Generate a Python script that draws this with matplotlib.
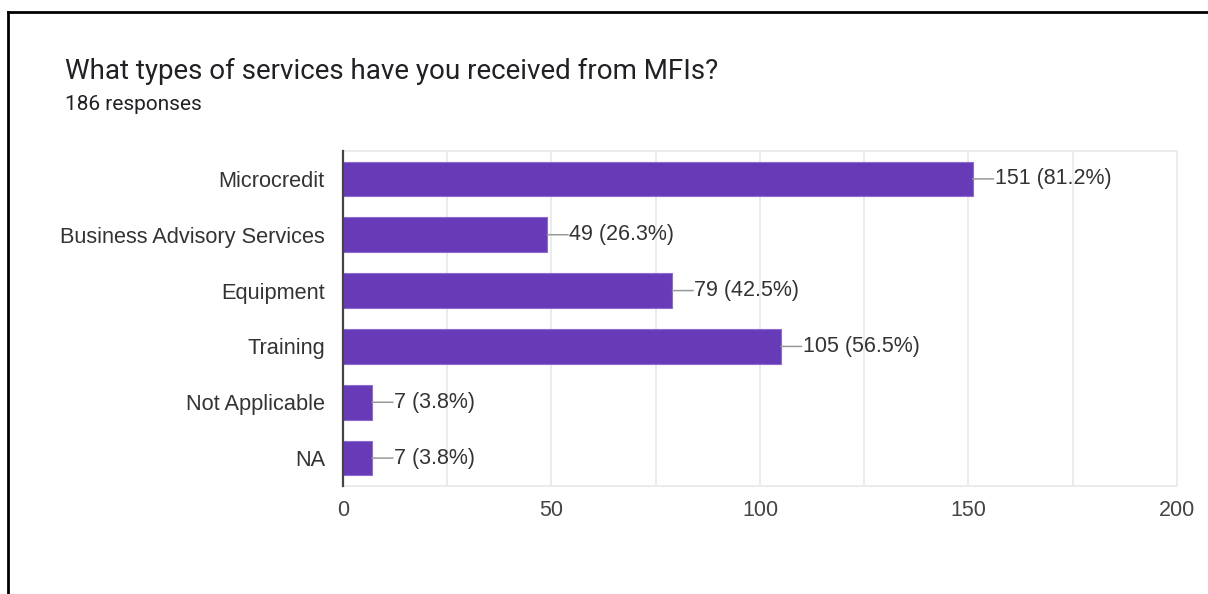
import matplotlib
matplotlib.use("Agg")
import matplotlib.pyplot as plt
from matplotlib.lines import Line2D

# survey answers, top to bottom
services = ["Microcredit", "Business Advisory Services", "Equipment",
            "Training", "Not Applicable", "NA"]
counts = [151, 49, 79, 105, 7, 7]
percents = [81.2, 26.3, 42.5, 56.5, 3.8, 3.8]
total_responses = 186

title = "What types of services have you received from MFIs?"
x_ticks = [0, 50, 100, 150, 200]

purple = "#673ab7"
text_grey = "#333333"
grid_grey = "#ebebeb"

fig = plt.figure(figsize=(12.08, 5.94), dpi=100)
ax = fig.add_axes([0.2839, 0.1818, 0.6904, 0.5640])

ypos = list(range(len(services)))
ax.barh(ypos, counts, height=0.62, color=purple, edgecolor="#8e6bd0",
        linewidth=0.8, zorder=3)

# value labels with a short leader line
for y, c, p in zip(ypos, counts, percents):
    ax.annotate("", xy=(c, y), xytext=(c + 5, y),
                arrowprops=dict(arrowstyle="-", color="#999999", lw=1.1,
                                shrinkA=0, shrinkB=0), zorder=4)
    ax.text(c + 5.3, y, f"{c} ({p}%)", va="center", ha="left",
            fontsize=15.5, color=text_grey, family="Liberation Sans")

ax.set_xlim(0, 200)
ax.set_ylim(len(services) - 0.5, -0.5)
ax.set_yticks(ypos)
ax.set_yticklabels(services, fontsize=15.7, color=text_grey,
                   family="Liberation Sans")
ax.set_xticks(x_ticks)
ax.set_xticklabels([str(t) for t in x_ticks], fontsize=15.5,
                   color="#444444", family="Liberation Sans")
ax.set_xticks(range(25, 200, 25), minor=True)
ax.tick_params(axis="both", length=0, pad=10)
ax.tick_params(axis="y", pad=13)
ax.tick_params(axis="x", which="minor", length=0)

ax.grid(axis="x", which="both", color=grid_grey, linewidth=1.4, zorder=0)
for side in ["top", "right", "bottom"]:
    ax.spines[side].set_color(grid_grey)
    ax.spines[side].set_linewidth(1.4)
ax.spines["left"].set_color("#444444")
ax.spines["left"].set_linewidth(1.6)
ax.spines["left"].set_zorder(5)

fig.text(65 / 1208, 1 - 71 / 594, title, fontsize=20, color="#202124",
         family="Roboto", va="center", ha="left")
fig.text(65 / 1208, 1 - 105 / 594, f"{total_responses} responses",
         fontsize=15, color="#202124", family="Roboto",
         va="center", ha="left")

# black frame along the top and left edges
fig.add_artist(Line2D([8 / 1208, 1.0], [1 - 12 / 594, 1 - 12 / 594],
                      transform=fig.transFigure, color="black", lw=2))
fig.add_artist(Line2D([8 / 1208, 8 / 1208], [0, 1 - 12 / 594],
                      transform=fig.transFigure, color="black", lw=2))

fig.savefig("out.png", dpi=100)
